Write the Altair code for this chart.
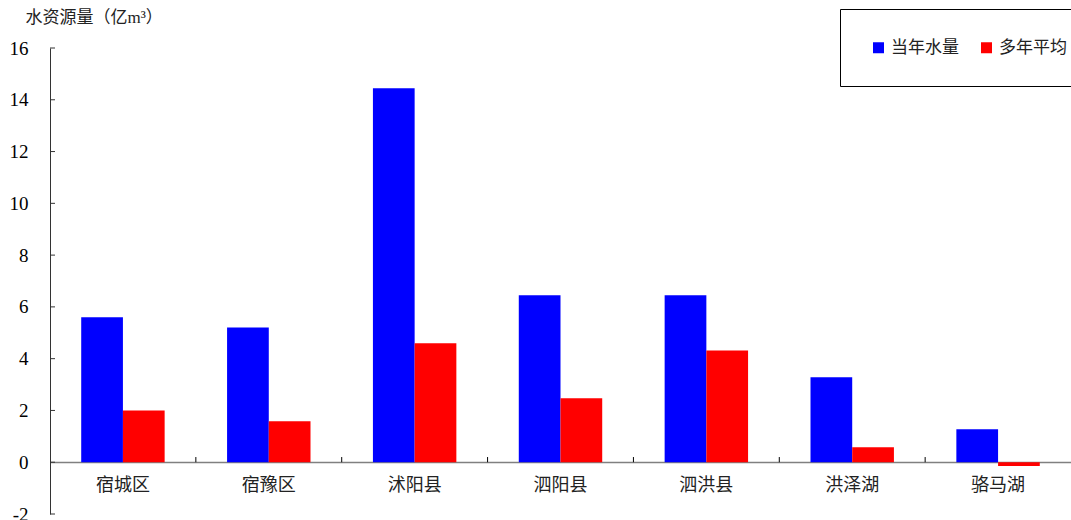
import altair as alt
import pandas as pd

districts = ["宿城区", "宿豫区", "沭阳县", "泗阳县", "泗洪县", "洪泽湖", "骆马湖"]
series_names = ["当年水量", "多年平均"]
current = [5.6, 5.2, 14.45, 6.45, 6.45, 3.28, 1.27]
average = [2.0, 1.58, 4.6, 2.47, 4.32, 0.58, -0.15]
y_ticks = [-2, 0, 2, 4, 6, 8, 10, 12, 14, 16]
x_bounds = [1, 2, 3, 4, 5, 6]

rows = []
for d, c, a in zip(districts, current, average):
    rows.append({"district": d, "series": series_names[0], "value": c})
    rows.append({"district": d, "series": series_names[1], "value": a})
df = pd.DataFrame(rows)

CJK = "Noto Sans CJK SC"
SERIF = "Liberation Serif, DejaVu Serif, serif"

bars = alt.Chart(df).mark_bar().encode(
    x=alt.X(
        "district:N",
        sort=districts,
        scale=alt.Scale(paddingInner=0.428, paddingOuter=0.214),
        axis=alt.Axis(
            title=None, labelAngle=0, offset=-52, domainColor="#808080",
            domainWidth=1.5, ticks=False, labelFont=CJK, labelFontSize=18,
            labelColor="#222", labelPadding=14, labelBaseline="top",
        ),
    ),
    xOffset=alt.XOffset("series:N", sort=series_names),
    y=alt.Y(
        "value:Q",
        scale=alt.Scale(domain=[-2, 16], nice=False, zero=False),
        axis=alt.Axis(
            values=y_ticks, grid=False, ticks=False, domainColor="#333",
            labelFont=SERIF, labelFontSize=19, labelColor="black", labelPadding=22,
            labelExpr="'' + datum.value",
            title="水资源量（亿m³）", titleAngle=0, titleAlign="left",
            titleBaseline="middle", titleX=-25, titleY=-31,
            titleFont="Liberation Serif, Noto Sans CJK SC, serif",
            titleFontSize=17, titleFontWeight="normal", titleColor="#222",
        ),
    ),
    color=alt.Color(
        "series:N",
        sort=series_names,
        scale=alt.Scale(domain=series_names, range=["#0000ff", "#ff0000"]),
        legend=alt.Legend(
            title=None, orient="none", legendX=790, legendY=-39,
            direction="horizontal", symbolType="square", symbolSize=121,
            symbolStrokeWidth=0, labelFont=CJK, labelFontSize=17, labelColor="#222",
            columnPadding=19, labelOffset=4, padding=30,
            strokeColor="black", fillColor="white",
        ),
    ),
)

ytick_layer = alt.Chart(pd.DataFrame({"value": y_ticks})).mark_rule(color="#333").encode(
    y=alt.Y("value:Q"),
    x=alt.value(0),
    x2=alt.value(5),
)

xtick_layer = alt.Chart(pd.DataFrame({"k": x_bounds})).mark_rule(color="black").encode(
    x=alt.X("k:Q", scale=alt.Scale(domain=[0, 7], nice=False, zero=False), axis=None),
    y=alt.datum(0),
    y2=alt.datum(0.2),
)

chart = (
    alt.layer(bars, ytick_layer, xtick_layer)
    .resolve_scale(x="independent")
    .properties(
        width=1021, height=466,
        autosize=alt.AutoSizeParams(type="none"),
        padding={"left": 50, "top": 48, "right": 0, "bottom": 6},
        background="white",
    )
    .configure_view(stroke=None)
)

chart.save("out.html", embed_options={"renderer": "svg", "actions": False})
